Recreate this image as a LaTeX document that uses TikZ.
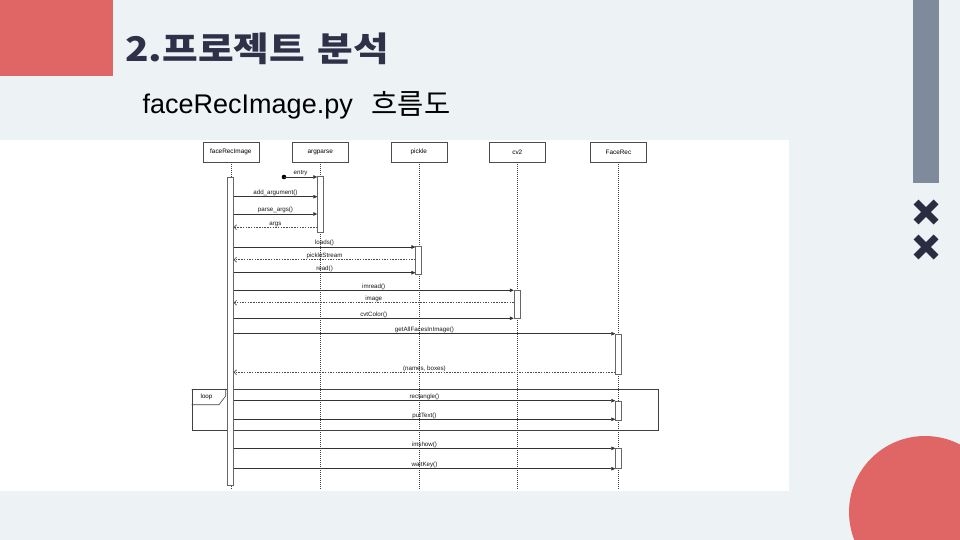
\documentclass[tikz,border=0pt]{standalone}
\usepackage{fontspec}
\setmainfont{Liberation Sans}
\newfontfamily\krfont{Noto Sans CJK KR}
\usetikzlibrary{arrows.meta}

\definecolor{slidebg}{HTML}{EDF2F5}
\definecolor{slidered}{HTML}{E06666}
\definecolor{bargray}{HTML}{7F8A9C}
\definecolor{navy}{HTML}{2E3148}
\definecolor{crossnavy}{HTML}{2A2D42}

\begin{document}
\begin{tikzpicture}[x=1pt, y=-1pt,
	party/.style={draw=black!70, fill=white, minimum width=56pt, minimum height=20pt, inner sep=0pt, font=\fontsize{6.4}{7}\selectfont},
	act/.style={draw=black!60, fill=white, minimum width=6pt, inner sep=0pt, line width=0.5pt},
	life/.style={draw=black!75, dash pattern=on 1pt off 1pt, line width=0.5pt},
	msg/.style={draw=black!80, line width=0.6pt, -{Triangle[length=4pt,width=3.6pt]}},
	ret/.style={draw=black!70, line width=0.6pt, dash pattern=on 1.5pt off 1.2pt, -{Straight Barb[length=2.5pt,width=5pt]}},
	lbl/.style={anchor=base, yshift=2.3pt, inner sep=0pt, font=\fontsize{6.2}{7}\selectfont, text=black!90}]
	\useasboundingbox (0,0) rectangle (960,540);
	\clip (0,0) rectangle (960,540);
	\fill[slidebg] (0,0) rectangle (960,540);

	% slide decoration
	\fill[slidered] (0,0) rectangle (113,76);
	\fill[bargray] (913.3,0) rectangle (939,183);
	\draw[crossnavy, line width=7pt] (916,202) -- (936,222) (936,202) -- (916,222);
	\draw[crossnavy, line width=7pt] (916,237) -- (936,257) (936,237) -- (916,257);
	\fill[slidered] (925,512) circle (76);

	\node[anchor=base west, inner sep=0pt, text=navy, xscale=1.14, font=\krfont\bfseries\fontsize{34}{40}\selectfont] (title) at (125,61.5) {2.프로젝트\hspace{3pt} 분석};
	\node[anchor=base west, inner sep=0pt, font=\fontsize{27}{30}\selectfont] (subtitle) at (142.5,113.3) {faceRecImage.py};
	\node[anchor=base west, inner sep=0pt, font=\krfont\fontsize{28.5}{30}\selectfont] (subkr) at (371.5,114.5) {흐름도};

	% sequence diagram
	\fill[white] (0,140.5) rectangle (789,491);

	\node[party] (fri) at (230.8,152) {faceRecImage};
	\node[party] (arg) at (320.3,152) {argparse};
	\node[party] (pkl) at (418.8,152) {pickle};
	\node[party] (cv) at (517.3,152) {cv2};
	\node[party] (frc) at (618.4,152) {FaceRec};

	\draw[life] (fri.south) -- (fri.south |- 0,490);
	\draw[life] (arg.south) -- (arg.south |- 0,490);
	\draw[life] (pkl.south) -- (pkl.south |- 0,490);
	\draw[life] (cv.south) -- (cv.south |- 0,490);
	\draw[life] (frc.south) -- (frc.south |- 0,490);

	\node[draw=black!75, line width=0.6pt, minimum width=466pt, minimum height=40.4pt, inner sep=0pt, anchor=north west] (loopbox) at (191.7,389.3) {};
	\draw[black!75, line width=0.6pt] (loopbox.north west) -- ++(34,0) -- ++(0,6.7) -- ++(-6.7,8.7) -- ++(-27.3,0);
	\node[font=\fontsize{6.2}{7}\selectfont, inner sep=0pt] (looplbl) at (206.5,397.3) {loop};

	\node[act, minimum height=308pt] (afri) at (230.4,331) {};
	\node[act, minimum height=55.3pt] (aarg) at (320.5,204.4) {};
	\node[act, minimum height=28pt] (apkl) at (418.7,260.7) {};
	\node[act, minimum height=28pt] (acv) at (517,304) {};
	\node[act, minimum height=40pt] (afrc) at (618.5,354) {};
	\node[act, minimum height=19.5pt] (afrc2) at (618.5,410.5) {};
	\node[act, minimum height=20.5pt] (afrc3) at (618.5,458.4) {};

	\coordinate (entry) at (284,177);
	\fill[black] (entry) circle (2.3pt);
	\draw[msg] (entry) -- (aarg.west |- entry) node[lbl, midway] {entry};
	\draw[msg] (afri.east |- 0,196.7) -- (aarg.west |- 0,196.7) node[lbl, midway] {add\_argument()};
	\draw[msg] (afri.east |- 0,214) -- (aarg.west |- 0,214) node[lbl, midway] {parse\_args()};
	\draw[ret] (aarg.west |- 0,227.3) -- (afri.east |- 0,227.3) node[lbl, midway] {args};

	\draw[msg] (afri.east |- 0,247) -- (apkl.west |- 0,247) node[lbl, midway] {loads()};
	\draw[ret] (apkl.west |- 0,259.7) -- (afri.east |- 0,259.7) node[lbl, midway] {pickleStream};
	\draw[msg] (afri.east |- 0,272.7) -- (apkl.west |- 0,272.7) node[lbl, midway] {read()};

	\draw[msg] (afri.east |- 0,290.3) -- (acv.west |- 0,290.3) node[lbl, midway] {imread()};
	\draw[ret] (acv.west |- 0,302.7) -- (afri.east |- 0,302.7) node[lbl, midway] {image};
	\draw[msg] (afri.east |- 0,318.3) -- (acv.west |- 0,318.3) node[lbl, midway] {cvtColor()};

	\draw[msg] (afri.east |- 0,333.7) -- (afrc.west |- 0,333.7) node[lbl, midway] {getAllFacesInImage()};
	\draw[ret] (afrc.west |- 0,372.3) -- (afri.east |- 0,372.3) node[lbl, midway] {(names, boxes)};

	\draw[msg] (afri.east |- 0,400.7) -- (afrc2.west |- 0,400.7) node[lbl, midway] {rectangle()};
	\draw[msg] (afri.east |- 0,419.3) -- (afrc2.west |- 0,419.3) node[lbl, midway] {putText()};

	\draw[msg] (afri.east |- 0,448.3) -- (afrc3.west |- 0,448.3) node[lbl, midway] {imshow()};
	\draw[msg] (afri.east |- 0,468.7) -- (afrc3.west |- 0,468.7) node[lbl, midway] {waitKey()};
\end{tikzpicture}
\end{document}
